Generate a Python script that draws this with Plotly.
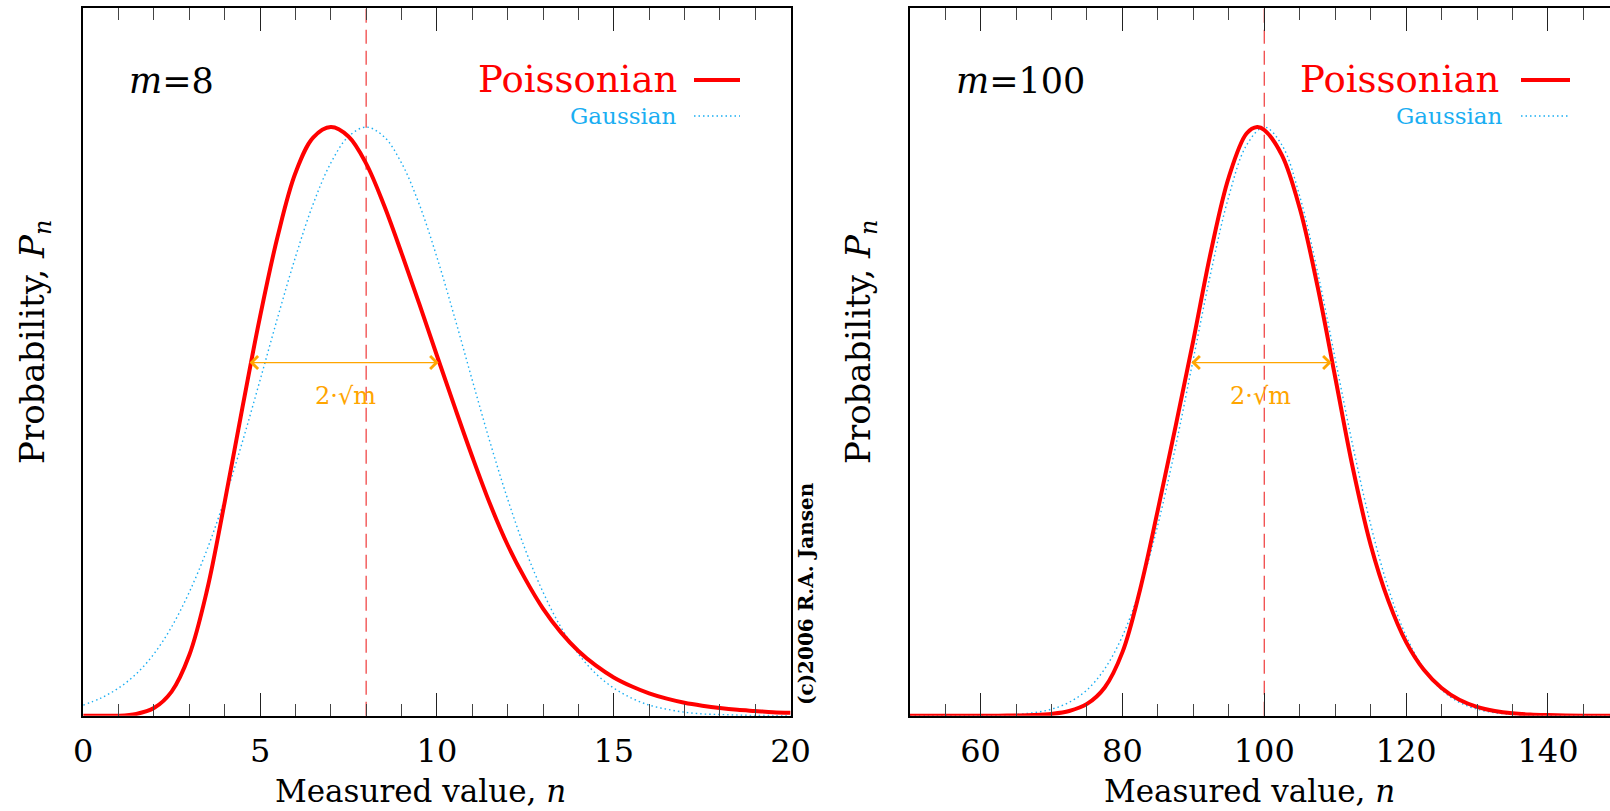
import plotly.graph_objects as go

W, H = 1610, 811

# ---------------- data (relative height, peak = 1) ----------------
m_values = [8, 100]

n_m8 = [0, 0.5, 1, 1.5, 2, 2.5, 3, 3.5, 4, 4.5, 5, 5.5, 6, 6.5, 7, 7.5, 8, 8.5, 9, 9.5, 10,
        10.5, 11, 11.5, 12, 12.5, 13, 13.5, 14, 14.5, 15, 15.5, 16, 16.5, 17, 17.5, 18,
        18.5, 19, 19.5, 20]
poisson_m8 = [0.0, 0.0, 0.0, 0.003, 0.013, 0.041, 0.103, 0.213, 0.363, 0.523, 0.678, 0.815,
              0.922, 0.982, 1.0, 0.984, 0.938, 0.868, 0.786, 0.70, 0.612, 0.525, 0.44, 0.36,
              0.29, 0.232, 0.182, 0.142, 0.11, 0.085, 0.065, 0.05, 0.038, 0.029, 0.022,
              0.017, 0.013, 0.010, 0.008, 0.006, 0.005]
gauss_m8 = [0.018, 0.030, 0.047, 0.071, 0.105, 0.151, 0.210, 0.282, 0.368, 0.465, 0.570,
            0.677, 0.779, 0.869, 0.939, 0.984, 1.000, 0.984, 0.939, 0.869, 0.779, 0.677,
            0.570, 0.465, 0.368, 0.282, 0.210, 0.151, 0.105, 0.071, 0.047, 0.030, 0.018,
            0.011, 0.006, 0.003, 0.002, 0.001, 0.0005, 0.0002, 0.0001]

n_m100_p = [50, 52.5, 55, 57.5, 60, 62.5, 65, 67.5, 70, 72.5, 75, 77.5, 80, 82.5, 85, 87.5,
            90, 92.5, 95, 97.5, 99, 100, 102.5, 105, 107.5, 110, 112.5, 115, 117.5, 120,
            122.5, 125, 127.5, 130, 132.5, 135, 137.5, 140, 142.5, 145, 147.5, 150]
poisson_m100 = [0.0, 0.0, 0.0, 0.0, 0.0, 0.0001, 0.0003, 0.001, 0.003, 0.008, 0.02, 0.048,
                0.108, 0.215, 0.35, 0.492, 0.638, 0.79, 0.915, 0.989, 1.0, 0.995, 0.952,
                0.862, 0.73, 0.575, 0.42, 0.29, 0.195, 0.125, 0.078, 0.047, 0.027, 0.015,
                0.008, 0.004, 0.002, 0.001, 0.0004, 0.0001, 0.0, 0.0]
n_m100_g = [50, 52.5, 55, 57.5, 60, 62.5, 65, 67.5, 70, 72.5, 75, 77.5, 80, 82.5, 85, 87.5,
            90, 92.5, 95, 97.5, 100, 102.5, 105, 107.5, 110, 112.5, 115, 117.5, 120, 122.5,
            125, 127.5, 130, 132.5, 135, 137.5, 140, 142.5, 145, 147.5, 150]
gauss_m100 = [0.0, 0.0, 0.0, 0.0001, 0.0003, 0.0009, 0.0022, 0.0051, 0.0111, 0.0228, 0.0439,
              0.0796, 0.1353, 0.2163, 0.3247, 0.4578, 0.6065, 0.7548, 0.8825, 0.9692, 1.0,
              0.9692, 0.8825, 0.7548, 0.6065, 0.4578, 0.3247, 0.2163, 0.1353, 0.0796, 0.0439,
              0.0228, 0.0111, 0.0051, 0.0022, 0.0009, 0.0003, 0.0001, 0.0, 0.0, 0.0]

# ends of the orange 2*sqrt(m) arrow and its height
arrow_m8 = [4.66, 10.05]
arrow_m100 = [89.5, 109.5]
arrow_level = 0.60

x_range_m8 = [0, 20]
x_range_m100 = [50, 148.75]
y_range = [0, 1.202]

# ---------------- styling ----------------
RED = "#FF0000"
BLUE = "#1AAEF2"
ORANGE = "#FFA500"
DASHRED = "#F04848"
FONT = "DejaVu Serif"


def px(x):
    return x / W


def py(y):
    return 1 - y / H


# plot boxes in pixels
L1, R1 = 83.2, 790.6
L2 = 909.7
TOP, BOT = 8.2, 715.7

fig = go.Figure()

fig.add_trace(go.Scatter(x=n_m8, y=gauss_m8, mode="lines", xaxis="x", yaxis="y",
                         line=dict(color=BLUE, width=1.4, dash="1.5px,3px", shape="spline"),
                         cliponaxis=False, showlegend=False))
fig.add_trace(go.Scatter(x=n_m8, y=poisson_m8, mode="lines", xaxis="x", yaxis="y",
                         line=dict(color=RED, width=4, shape="spline", smoothing=1),
                         cliponaxis=False, showlegend=False))
fig.add_trace(go.Scatter(x=n_m100_g, y=gauss_m100, mode="lines", xaxis="x2", yaxis="y2",
                         line=dict(color=BLUE, width=1.4, dash="1.5px,3px", shape="spline"),
                         cliponaxis=False, showlegend=False))
fig.add_trace(go.Scatter(x=n_m100_p, y=poisson_m100, mode="lines", xaxis="x2", yaxis="y2",
                         line=dict(color=RED, width=4, shape="spline", smoothing=1),
                         cliponaxis=False, showlegend=False))

tickfont = dict(family=FONT, size=32, color="black")


def xaxis_cfg(domain, rng, dtick, minor_dtick, anchor):
    return dict(domain=domain, range=rng, anchor=anchor, tickmode="linear", tick0=0,
                dtick=dtick, ticks="inside", ticklen=23, tickwidth=1, tickcolor="#222",
                minor=dict(ticks="inside", ticklen=12, dtick=minor_dtick, tick0=0,
                           tickwidth=1, tickcolor="#444", showgrid=False),
                showline=True, linecolor="black", linewidth=1.5, mirror="ticks",
                showgrid=False, zeroline=False, tickfont=tickfont, ticklabelstandoff=6,
                automargin=False, fixedrange=True)


def yaxis_cfg(domain, anchor, mirror):
    return dict(domain=domain, range=y_range, anchor=anchor, showticklabels=False, ticks="",
                showline=True, linecolor="black", linewidth=1.5, mirror=mirror,
                showgrid=False, zeroline=False, automargin=False, fixedrange=True)


ydom = [1 - BOT / H, 1 - TOP / H]
fig.update_layout(
    width=W, height=H, autosize=False,
    margin=dict(l=0, r=0, t=0, b=0, pad=0, autoexpand=False),
    paper_bgcolor="white", plot_bgcolor="white",
    xaxis=xaxis_cfg([px(L1), px(R1)], x_range_m8, 5, 1, "y"),
    yaxis=yaxis_cfg(ydom, "x", True),
    xaxis2=xaxis_cfg([px(L2), 1.0], x_range_m100, 20, 5, "y2"),
    yaxis2=yaxis_cfg(ydom, "x2", False),
)

shapes = []
annotations = []

panels = [
    dict(m=m_values[0], xa="x", ya="y", left=L1, arrow=arrow_m8, label="<i>m</i>=8",
         pois_end=679, line0=694, line1=740, gauss_end=679, sq_x=345, xt=420, yt=34,
         copyright=True),
    dict(m=m_values[1], xa="x2", ya="y2", left=L2, arrow=arrow_m100,
         label="<i>m</i>=100", pois_end=1501, line0=1521, line1=1570, gauss_end=1505,
         sq_x=1260, xt=1249, yt=860, copyright=False),
]

for p in panels:
    # vertical dashed line at n = m
    shapes.append(dict(type="line", xref=p["xa"], yref=p["ya"] + " domain",
                       x0=p["m"], x1=p["m"], y0=0, y1=1,
                       line=dict(color=DASHRED, width=1.3, dash="14px,7px"), layer="below"))
    # legend sample lines
    shapes.append(dict(type="line", xref="paper", yref="paper",
                       x0=px(p["line0"]), x1=px(p["line1"]), y0=py(80), y1=py(80),
                       line=dict(color=RED, width=4)))
    shapes.append(dict(type="line", xref="paper", yref="paper",
                       x0=px(p["line0"]), x1=px(p["line1"]), y0=py(116), y1=py(116),
                       line=dict(color=BLUE, width=1.4, dash="1.5px,3px")))
    # legend texts
    annotations.append(dict(text="Poissonian", xref="paper", yref="paper", x=px(p["pois_end"]),
                            y=py(80), xanchor="right", yanchor="middle", showarrow=False,
                            font=dict(family=FONT, size=37, color=RED)))
    annotations.append(dict(text="Gaussian", xref="paper", yref="paper", x=px(p["gauss_end"]),
                            y=py(116), xanchor="right", yanchor="middle", showarrow=False,
                            font=dict(family=FONT, size=23, color=BLUE)))
    # m = ... label
    annotations.append(dict(text=p["label"], xref="paper", yref="paper", x=px(p["left"] + 44),
                            y=py(81), xanchor="left", yanchor="middle", showarrow=False,
                            font=dict(family=FONT, size=35, color="black")))
    # 2 sqrt(m) arrow
    annotations.append(dict(text="", xref=p["xa"], yref=p["ya"], x=p["arrow"][1], y=arrow_level,
                            axref=p["xa"], ayref=p["ya"], ax=p["arrow"][0], ay=arrow_level,
                            showarrow=True, arrowside="end+start", arrowhead=4,
                            startarrowhead=4, arrowsize=2.1, startarrowsize=2.1,
                            arrowwidth=1.2, arrowcolor=ORANGE, standoff=0, startstandoff=0))
    annotations.append(dict(text="2·√m", xref="paper", yref="paper", x=px(p["sq_x"]),
                            y=py(396), xanchor="center", yanchor="middle", showarrow=False,
                            font=dict(family=FONT, size=24, color=ORANGE)))
    # axis titles
    annotations.append(dict(text="Measured value, <i>n</i>", xref="paper", yref="paper",
                            x=px(p["xt"]), y=py(791), xanchor="center", yanchor="middle",
                            showarrow=False, font=dict(family=FONT, size=31, color="black")))
    annotations.append(dict(text="Probability, <i>P</i><sub><i>n</i></sub>", xref="paper",
                            yref="paper", x=px(p["yt"]), y=py(342), xanchor="center",
                            yanchor="middle", textangle=-90, showarrow=False,
                            font=dict(family=FONT, size=34, color="black")))
    if p["copyright"]:
        annotations.append(dict(text="(c)2006 R.A. Jansen", xref="paper", yref="paper",
                                x=px(806), y=py(594), xanchor="center", yanchor="middle",
                                textangle=-90, showarrow=False,
                                font=dict(family=FONT, size=20, color="black", weight="bold")))

fig.update_layout(shapes=shapes, annotations=annotations)

fig.write_html("out.html")
